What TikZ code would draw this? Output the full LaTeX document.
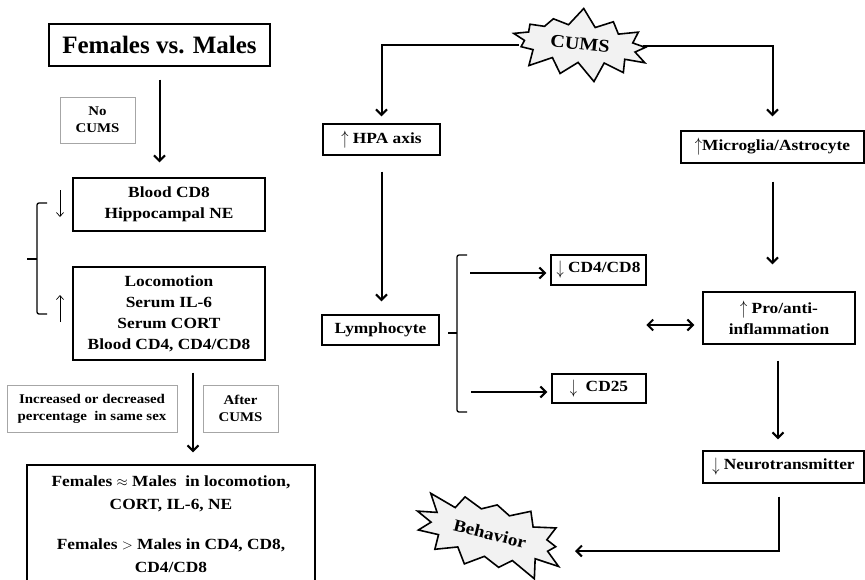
\documentclass[tikz,border=0pt]{standalone}
\usepackage{fontspec}
\setmainfont{Liberation Serif}[FakeStretch=1.12]
\newfontfamily\titlefont{Liberation Serif}
\usetikzlibrary{arrows.meta,shapes.symbols,calc}
\newcommand{\myup}{\raisebox{-1pt}{\scalebox{1}[1.35]{\(\uparrow\)}}}
\newcommand{\mydown}{\raisebox{-2pt}{\scalebox{1}[1.35]{\(\downarrow\)}}}
\begin{document}
\begin{tikzpicture}[x=1pt,y=-1pt,
  box/.style={draw, line width=1.4pt, font=\bfseries\fontsize{15.5}{21}\selectfont, align=center, inner sep=0pt},
  gbox/.style={draw=gray!70, line width=0.8pt, font=\bfseries\fontsize{13.3}{17}\selectfont, align=center, inner sep=0pt},
  arr/.style={line width=2pt, -{Straight Barb[length=5.5pt,width=11pt]}},
  darr/.style={line width=2pt, {Straight Barb[length=5.5pt,width=11pt]}-{Straight Barb[length=5.5pt,width=11pt]}},
  thinarr/.style={line width=0.7pt, -{Straight Barb[length=4pt,width=7pt]}},
  bracket/.style={line width=1.3pt, rounded corners=2pt},
  burst/.style={starburst, draw, line width=1.6pt, fill=gray!10, inner sep=0pt, starburst points=13}]
\useasboundingbox (0,0) rectangle (865,579);

% left column
\node[box, font=\titlefont\bfseries\fontsize{25}{28}\selectfont, minimum width=221pt, minimum height=42pt] (fvm) at (159.5,45) {Females vs. Males};
\node[gbox, minimum width=75pt, minimum height=46pt] (nocums) at (97.5,120) {No\\CUMS};
\node[box, minimum width=192pt, minimum height=53pt] (bcd8) at (169,204.5) {Blood CD8\\Hippocampal NE};
\node[box, minimum width=192pt, minimum height=93pt] (loco) at (169,313.5) {Locomotion\\Serum IL-6\\Serum CORT\\Blood CD4, CD4/CD8};
\node[gbox, minimum width=170pt, minimum height=47pt] (incr) at (92,408.5) {Increased or decreased\\percentage\ \ in same sex};
\node[gbox, minimum width=75pt, minimum height=47pt] (after) at (240.5,408.5) {After\\CUMS};
\node[box, font=\bfseries\fontsize{15.5}{23}\selectfont, minimum width=288pt, minimum height=119pt] (fem) at (171,524.5) {Females \(\approx\) Males\ \ in locomotion,\\CORT, IL-6, NE\\[17pt]Females \(>\) Males in CD4, CD8,\\CD4/CD8};

\draw[arr] ([yshift=-13pt]fvm.south) -- ([yshift=15pt]fvm.south |- bcd8.north);
\draw[arr] ([xshift=24pt,yshift=-12pt]loco.south) -- ([xshift=22pt,yshift=12pt]fem.north);

\draw[bracket] (47,203) -- (37,203) -- (37,314) -- (47,314);
\draw[bracket] (37,259) -- (27,259);
\coordinate (dna) at (60,190);
\coordinate (dnb) at (60,217);
\coordinate (upa) at (60,322);
\coordinate (upb) at (60,295);
\draw[thinarr] (dna) -- (dnb);
\draw[thinarr] (upa) -- (upb);

% right part
\node[burst, minimum width=150pt, minimum height=75pt, starburst point height=19pt, random starburst=7, rotate=-6] (cums) at (580,44) {\bfseries\fontsize{18}{18}\selectfont CUMS};
\node[box, minimum width=117pt, minimum height=31pt] (hpa) at (381.5,139.5) {\myup\ HPA axis};
\node[box, minimum width=183pt, minimum height=32pt] (micro) at (772.5,147) {\myup Microglia/Astrocyte};
\node[box, minimum width=117pt, minimum height=30pt] (lymph) at (380.5,330) {Lymphocyte};
\node[box, minimum width=95pt, minimum height=30pt] (cd4) at (598.5,270) {\mydown\ CD4/CD8};
\node[box, minimum width=94pt, minimum height=29pt] (cd25) at (599,388.5) {\mydown\ \ CD25};
\node[box, minimum width=152pt, minimum height=52pt] (pro) at (779,318) {\myup\ Pro/anti-\\inflammation};
\node[box, minimum width=161pt, minimum height=32pt] (neuro) at (783.5,467) {\mydown\ Neurotransmitter};
\node[burst, minimum width=165pt, minimum height=90pt, starburst point height=22pt, random starburst=3, rotate=-14] (behav) at (490,534) {\bfseries\fontsize{17}{17}\selectfont Behavior};

\draw[arr] ([yshift=-7pt]cums.west) -| ([yshift=7pt]hpa.north);
\draw[arr] ([xshift=2pt,yshift=4pt]cums.east) -| ([yshift=14pt]micro.north);
\draw[arr] ([yshift=-16pt]hpa.south) -- ([yshift=13pt]hpa.south |- lymph.north);
\draw[bracket] (467,255) -- (457,255) -- (457,412) -- (467,412);
\draw[bracket] (457,333) -- (448,333);
\draw[arr] ($(cd4.west)+(-80,3)$) -- ([xshift=-4pt,yshift=-3pt]cd4.west);
\draw[arr] ($(cd25.west)+(-80,3.5)$) -- ([xshift=-4pt,yshift=-3.5pt]cd25.west);
\draw[arr] ([yshift=-18pt]micro.south) -- ([yshift=27pt]micro.south |- pro.north);
\draw[arr] ([xshift=-1pt,yshift=-16pt]pro.south) -- ([xshift=-1pt,yshift=11pt]pro.south |- neuro.north);
\draw[darr] ($(pro.west)+(-56,7)$) -- ($(pro.west)+(-8,7)$);
\draw[arr] ([xshift=-4.5pt,yshift=-13pt]neuro.south) |- ($(behav.center)+(85,17)$);
\end{tikzpicture}
\end{document}
